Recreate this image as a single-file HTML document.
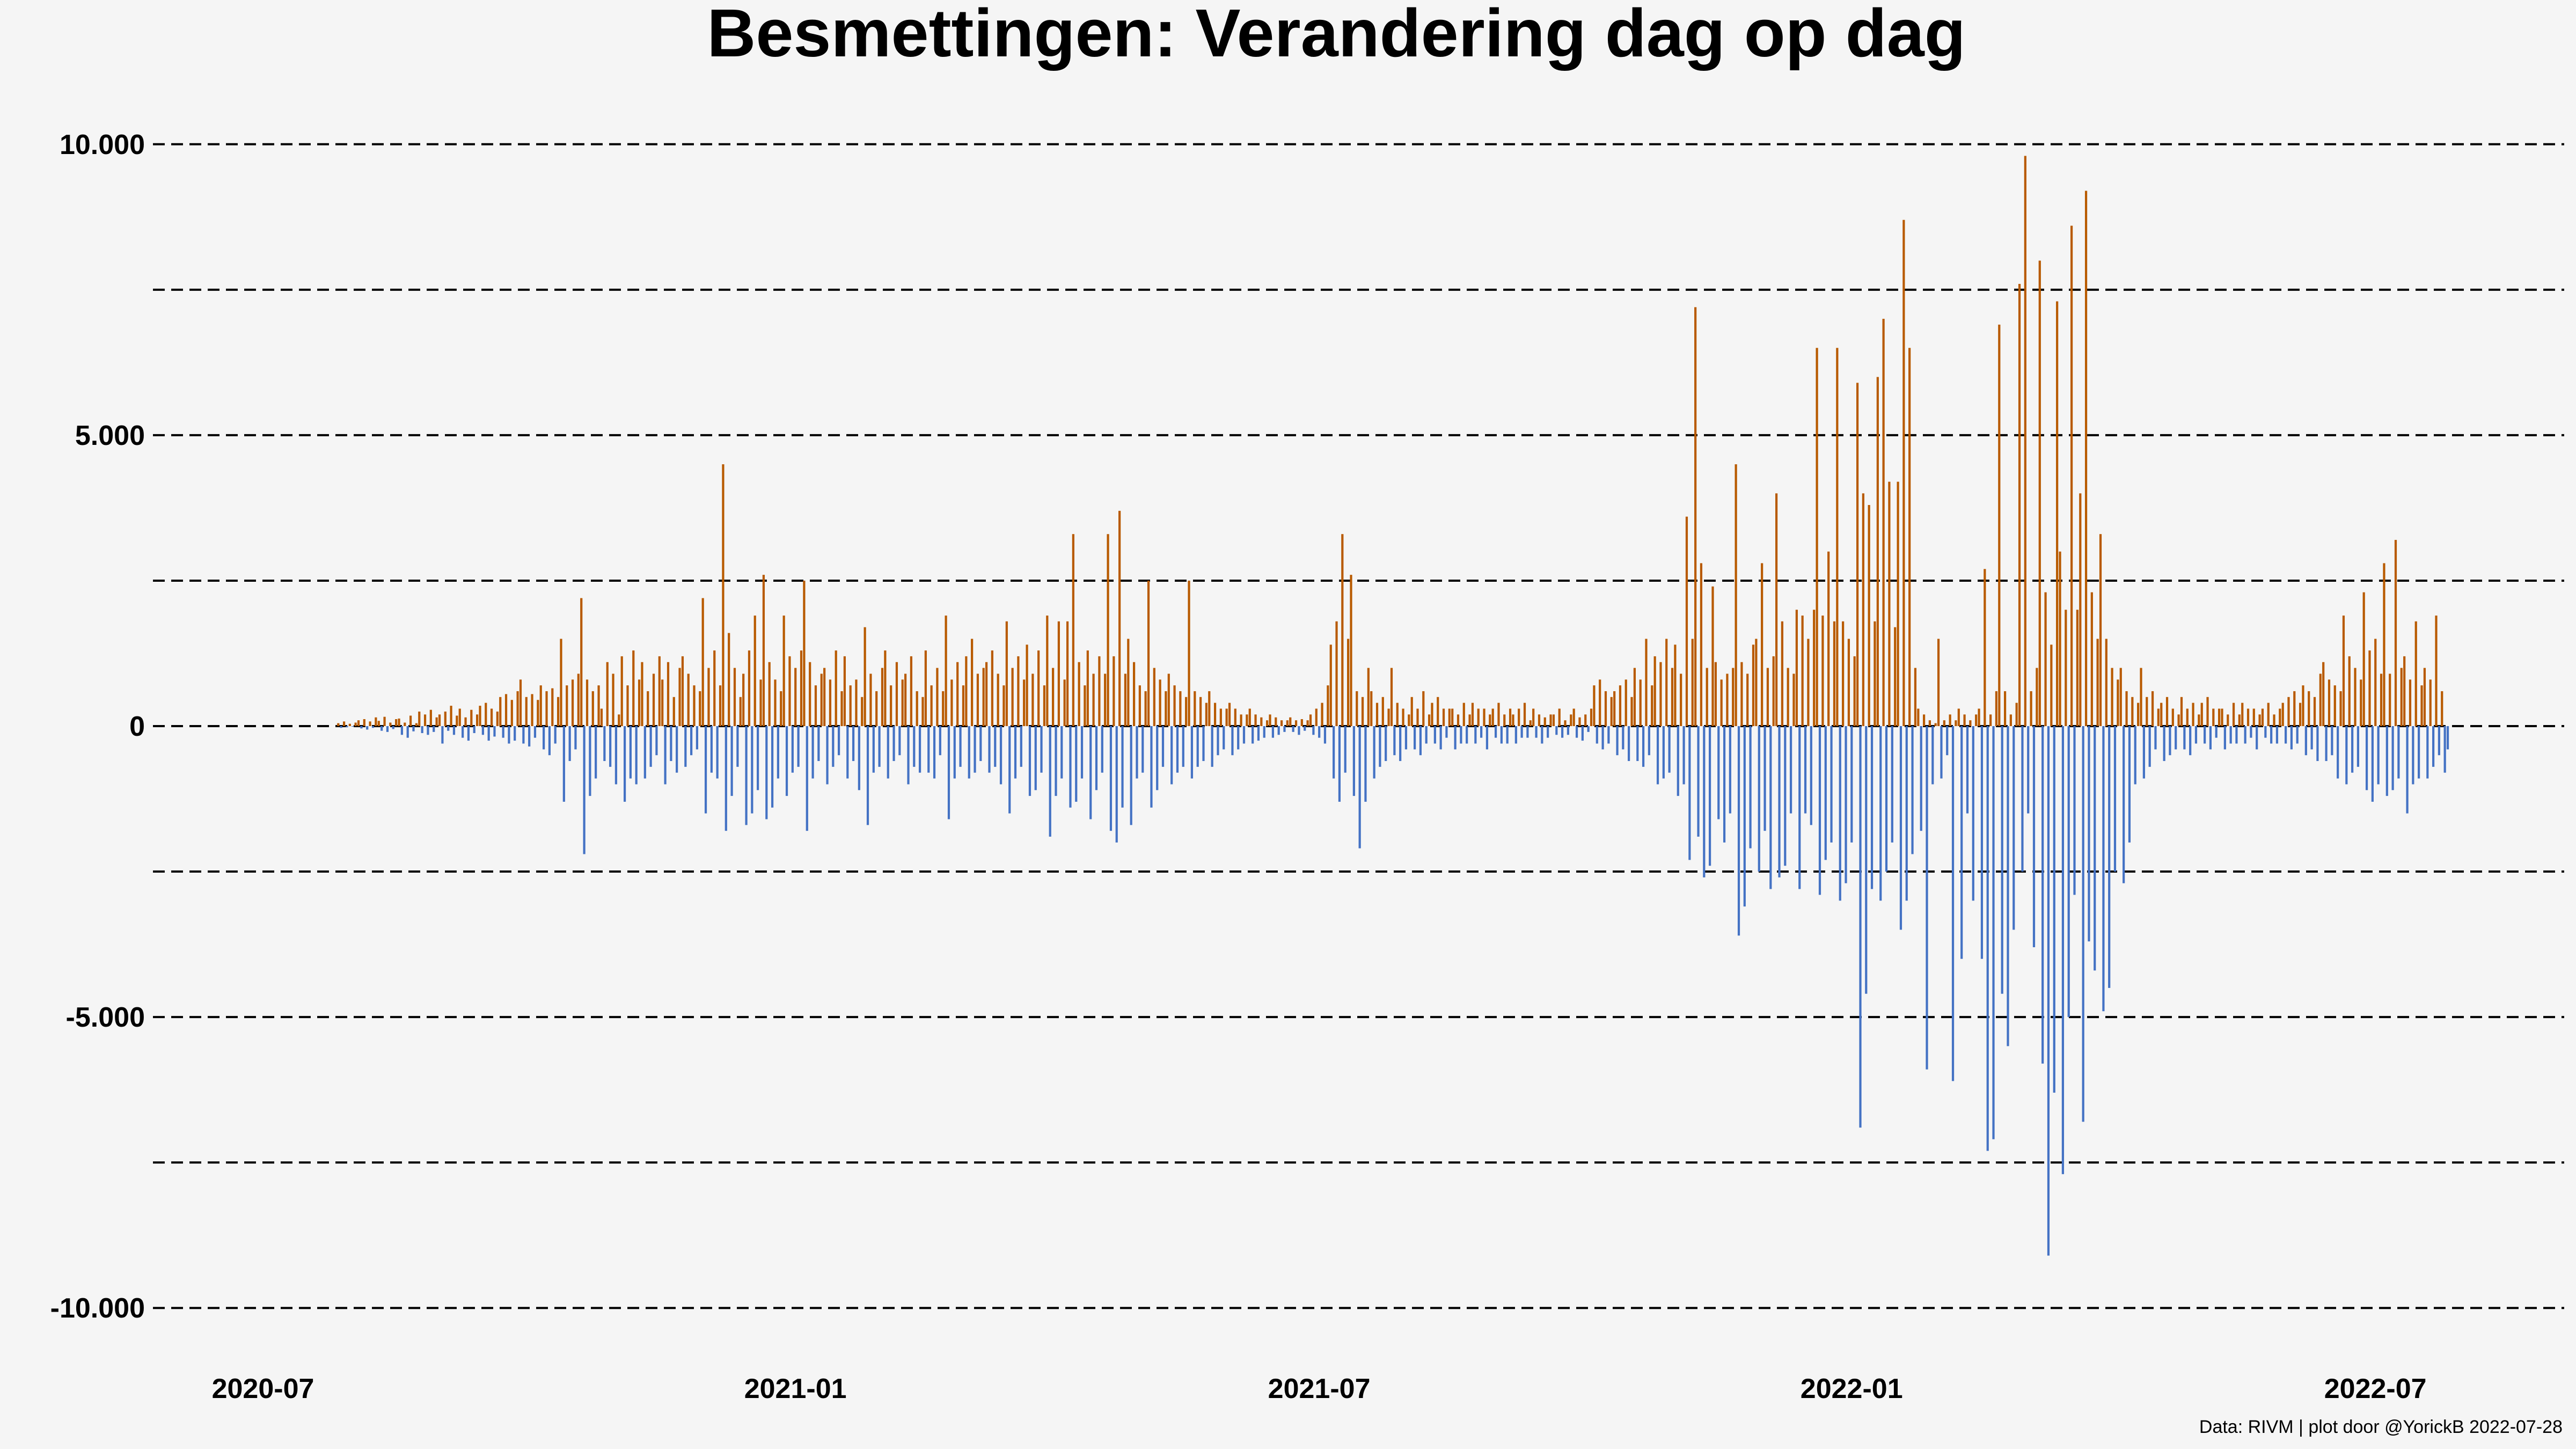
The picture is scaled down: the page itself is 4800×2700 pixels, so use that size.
<!DOCTYPE html>
<html><head><meta charset="utf-8"><style>
html,body{margin:0;padding:0;background:#f5f5f5;}
svg{display:block;font-family:"Liberation Sans",Arial,sans-serif;}
</style></head><body>
<svg id="chart" width="4800" height="2700" viewBox="0 0 4800 2700" xmlns="http://www.w3.org/2000/svg">
<rect width="4800" height="2700" fill="#f5f5f5"/>
<text x="2490" y="105" text-anchor="middle" font-size="126" font-weight="bold" fill="#000">Besmettingen: Verandering dag op dag</text>
<g id="grid"></g>
<g id="ylabels"></g>
<g id="xlabels"></g>
<g id="bars"></g>
<text x="4775" y="2670" text-anchor="end" font-size="34" fill="#000">Data: RIVM | plot door @YorickB  2022-07-28</text>
</svg>
<script>
const yTicks=[10000,7500,5000,2500,0,-2500,-5000,-7500,-10000];
const yTickLabels=["10.000","","5.000","","0","","-5.000","","-10.000"];
const xTickDays=[0,184,365,549,730];
const xTickLabels=["2020-07","2021-01","2021-07","2022-01","2022-07"];
const startOffsetDays=26; // first bar: 2020-07-27
const weeklyValues=[
[50,-30,80,-20,40,-10,60],[100,-40,120,-60,80,-30,150],[90,-80,160,-100,60,-50,120],[130,-150,60,-200,180,-90,50],
[250,-120,200,-150,280,-100,150],[200,-300,250,-80,350,-150,180],[300,-200,150,-250,280,-120,200],[350,-150,400,-250,300,-180,250],
[500,-200,550,-300,450,-250,600],[800,-300,500,-350,550,-200,450],[700,-400,600,-500,650,-300,500],[1500,-1300,700,-600,800,-400,900],
[2200,-2200,800,-1200,600,-900,700],[300,-600,1100,-700,900,-1000,200],[1200,-1300,700,-900,1300,-1000,800],[1100,-900,600,-700,900,-500,1200],
[800,-1000,1100,-600,500,-800,1000],[1200,-700,900,-500,700,-400,600],[2200,-1500,1000,-800,1300,-900,700],[4500,-1800,1600,-1200,1000,-700,500],
[900,-1700,1300,-1500,1900,-1100,800],[2600,-1600,1100,-1400,800,-900,600],[1900,-1200,1200,-800,1000,-700,1300],[2500,-1800,1100,-900,700,-600,900],
[1000,-1000,800,-700,1300,-500,600],[1200,-900,700,-600,800,-1100,500],[1700,-1700,900,-800,600,-700,1000],[1300,-900,700,-600,1100,-500,800],
[900,-1000,1200,-700,600,-800,500],[1300,-800,700,-900,1000,-500,600],[1900,-1600,800,-900,1100,-700,700],[1200,-900,1500,-800,900,-600,1000],
[1100,-800,1300,-700,900,-1000,700],[1800,-1500,1000,-900,1200,-700,800],[1400,-1200,900,-1100,1300,-800,700],[1900,-1900,1000,-1200,1800,-900,800],
[1800,-1400,3300,-1300,1100,-900,700],[1300,-1600,900,-1100,1200,-800,900],[3300,-1800,1200,-2000,3700,-1400,900],[1500,-1700,1100,-900,700,-800,600],
[2500,-1400,1000,-1100,800,-700,600],[900,-1000,700,-800,600,-700,500],[2500,-900,600,-700,500,-600,400],[600,-700,400,-500,300,-400,300],
[400,-500,300,-400,200,-300,200],[300,-300,200,-250,150,-200,100],[200,-200,150,-150,100,-100,100],[150,-100,100,-150,120,-80,100],
[200,-150,300,-200,400,-300,700],[1400,-900,1800,-1300,3300,-800,1500],[2600,-1200,600,-2100,500,-1300,1000],[600,-900,400,-700,500,-600,300],
[1000,-500,400,-600,300,-400,200],[500,-400,300,-500,600,-300,200],[400,-300,500,-400,300,-200,300],[300,-400,200,-300,400,-300,200],
[400,-300,300,-200,300,-400,200],[300,-200,400,-300,200,-300,300],[200,-300,300,-200,400,-200,100],[300,-200,200,-300,150,-200,200],
[200,-150,300,-200,100,-150,200],[300,-200,150,-250,200,-100,300],[700,-300,800,-400,600,-300,500],[600,-500,700,-400,800,-600,500],
[1000,-600,800,-700,1500,-500,700],[1200,-1000,1100,-900,1500,-800,1000],[1400,-1200,900,-1000,3600,-2300,1500],[7200,-1900,2800,-2600,1000,-2400,2400],
[1100,-1600,800,-2000,900,-1500,1000],[4500,-3600,1100,-3100,900,-2100,1400],[1500,-2500,2800,-1800,1000,-2800,1200],[4000,-2600,1800,-2400,1000,-1500,900],
[2000,-2800,1900,-1500,1500,-1700,2000],[6500,-2900,1900,-2300,3000,-2000,1800],[6500,-3000,1800,-2700,1500,-2000,1200],[5900,-6900,4000,-4600,3800,-2800,1800],
[6000,-3000,7000,-2500,4200,-2000,1700],[4200,-3500,8700,-3000,6500,-2200,1000],[300,-1800,200,-5900,100,-1000,50],[1500,-900,100,-500,200,-6100,100],
[300,-4000,200,-1500,100,-3000,200],[300,-4000,2700,-7300,200,-7100,600],[6900,-4600,600,-5500,200,-3500,400],[7600,-2500,9800,-1500,600,-3800,1000],
[8000,-5800,2300,-9100,1400,-6300,7300],[3000,-7700,2000,-5000,8600,-2900,2000],[4000,-6800,9200,-3700,2300,-4200,1500],[3300,-4900,1500,-4500,1000,-2500,800],
[1000,-2700,600,-2000,500,-1000,400],[1000,-900,500,-700,600,-400,300],[400,-600,500,-500,300,-400,200],[500,-400,300,-500,400,-300,200],
[400,-300,500,-400,300,-200,300],[300,-400,200,-300,400,-300,200],[400,-300,300,-200,300,-400,200],[300,-200,400,-300,200,-300,300],
[400,-300,500,-400,600,-300,400],[700,-500,600,-400,500,-600,900],[1100,-600,800,-500,700,-900,600],[1900,-1000,1200,-800,1000,-700,800],
[2300,-1100,1300,-1300,1500,-1000,900],[2800,-1200,900,-1100,3200,-900,1000],[1200,-1500,800,-1000,1800,-900,700],[1000,-900,800,-700,1900,-500,600],
[-800,-400]
];
const NS="http://www.w3.org/2000/svg";
function yScale(v){return 1353 - v*0.10842;}
function xScale(d){return 490 + d*5.392;}
const grid=document.getElementById('grid');
const yl=document.getElementById('ylabels');
yTicks.forEach((t,i)=>{
  const ln=document.createElementNS(NS,'line');
  
  
  ln.setAttribute('x1',285);ln.setAttribute('x2',4778);
  ln.setAttribute('y1',yScale(t));ln.setAttribute('y2',yScale(t));
  ln.setAttribute('stroke','#000');ln.setAttribute('stroke-width',4);
  ln.setAttribute('stroke-dasharray','22 12');
  grid.appendChild(ln);
  if(yTickLabels[i]){
    const tx=document.createElementNS(NS,'text');
    
    
    tx.setAttribute('x',270);tx.setAttribute('y',yScale(t)+18);
    tx.setAttribute('text-anchor','end');tx.setAttribute('font-size',52);tx.setAttribute('font-weight','bold');
    tx.textContent=yTickLabels[i];yl.appendChild(tx);
  }
});
const xl=document.getElementById('xlabels');
xTickDays.forEach((d,i)=>{
  const tx=document.createElementNS(NS,'text');
  
  
  tx.setAttribute('x',xScale(d));tx.setAttribute('y',2605);
  tx.setAttribute('text-anchor','middle');tx.setAttribute('font-size',52);tx.setAttribute('font-weight','bold');
  tx.textContent=xTickLabels[i];xl.appendChild(tx);
});
const bars=document.getElementById('bars');
let idx=0;
weeklyValues.forEach(w=>w.forEach(v=>{
  const d=startOffsetDays+idx; idx++;
  const r=document.createElementNS(NS,'rect');
  
  
  const y0=yScale(0), y1=yScale(v);
  r.setAttribute('x',xScale(d)-2);r.setAttribute('width',4.2);
  r.setAttribute('y',Math.min(y0,y1));r.setAttribute('height',Math.abs(y1-y0));
  r.setAttribute('fill',v>=0?'#b85a00':'#4472c4');
  bars.appendChild(r);
}));
</script>
</body></html>
